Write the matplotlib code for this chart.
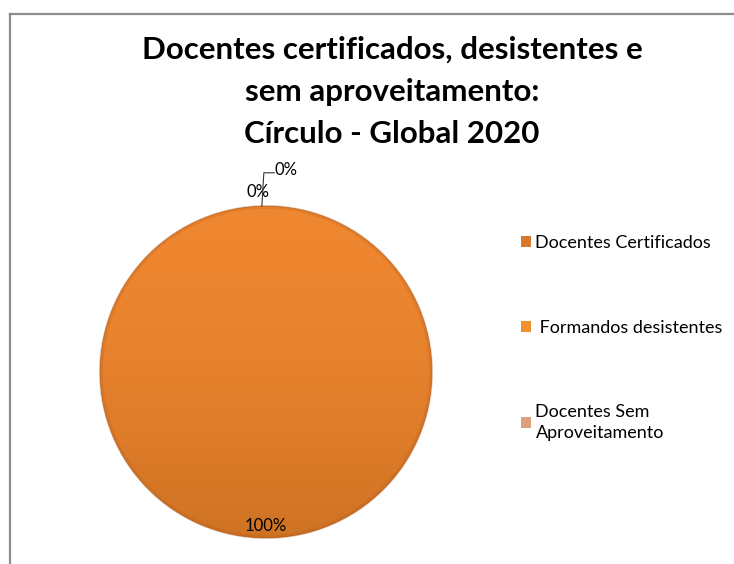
import numpy as np
import matplotlib.pyplot as plt
from matplotlib.lines import Line2D
from matplotlib.patches import Patch

# data
categorias = ['Docentes Certificados', ' Formandos desistentes', 'Docentes Sem\nAproveitamento']
valores = [25, 0, 0]
cores = ['#D9772A', '#F0902E', '#DDA07E']
titulo = 'Docentes certificados, desistentes e\nsem aproveitamento:\nCírculo - Global 2020'

plt.rcParams['font.family'] = ['Lato', 'DejaVu Sans']

W, H = 734, 564
fig = plt.figure(figsize=(W / 100, H / 100), dpi=100)

# frame lines (left and top) like the Excel chart area
fig.add_artist(Line2D([9.5 / W, 9.5 / W], [0, 1 - 13.5 / H], color='#8c8c8c', lw=1.6))
fig.add_artist(Line2D([9.5 / W, 1], [1 - 13.5 / H, 1 - 13.5 / H], color='#8c8c8c', lw=1.6))

fig.text(392 / W, 1 - 92 / H, titulo, ha='center', va='center', fontsize=22.5,
         fontweight='bold', linespacing=1.62)

# pie axes, centre (266, 372) px, radius 166 px
cx, cy, R = 266, 372, 166
size = 2.2 * R
ax = fig.add_axes([(cx - size / 2) / W, (H - cy - size / 2) / H, size / W, size / H])

wedges, _ = ax.pie(valores, colors=cores, startangle=90, counterclock=False, radius=1.0,
                   wedgeprops=dict(edgecolor='none'))
ax.set_xlim(-1.1, 1.1)
ax.set_ylim(-1.1, 1.1)
ax.set_aspect('equal')
ax.axis('off')

# gradient shading on top of the slices (light top, darker bottom)
yy = np.linspace(1, -1, 300)[:, None] * np.ones((1, 10))
grad = np.zeros((300, 10, 4))
top = np.array([0.94, 0.53, 0.19])
bot = np.array([0.81, 0.45, 0.14])
t = ((1 - yy) / 2) ** 1.6
for k in range(3):
    grad[:, :, k] = top[k] * (1 - t) + bot[k] * t
grad[:, :, 3] = 1.0
for w, v in zip(wedges, valores):
    if v > 0:
        im = ax.imshow(grad, extent=(-1, 1, -1, 1), zorder=1.5, interpolation='bilinear')
        im.set_clip_path(w)
# soft rim
for r, a in [(1.0, 0.45), (0.988, 0.2)]:
    ax.add_patch(plt.Circle((0, 0), r, fill=False, ec='#a9561a', lw=1.2, alpha=a, zorder=2))

total = sum(valores)
pct = [100 * v / total for v in valores]
mids = [np.deg2rad((w.theta1 + w.theta2) / 2) for w in wedges]

ax.text(0.93 * np.cos(mids[0]), 0.93 * np.sin(mids[0]), '%.0f%%' % pct[0],
        ha='center', va='center', fontsize=12, zorder=3)
ax.text(1.085 * np.cos(mids[1]) - 0.05, 1.085 * np.sin(mids[1]), '%.0f%%' % pct[1],
        ha='center', va='center', fontsize=12, zorder=3)
# leader line for the last label
x0, y0 = np.cos(mids[2]) - 0.025, np.sin(mids[2])
ax.plot([x0, x0 + 0.012, x0 + 0.075], [y0, y0 + 0.2, y0 + 0.2], color='#333333', lw=0.8,
        clip_on=False, zorder=3)
ax.text(x0 + 0.075, y0 + 0.215, '%.0f%%' % pct[2], ha='left', va='center',
        fontsize=12, zorder=3)
for txt in ax.texts:
    txt.set_clip_on(False)

handles = [Patch(facecolor=c, edgecolor='none') for c in cores]
leg = fig.legend(handles, categorias, loc='upper left', bbox_to_anchor=(521 / W, 1 - 235 / H),
                 frameon=False, fontsize=13, handlelength=0.55, handleheight=0.55,
                 handletextpad=0.25, labelspacing=3.8, borderpad=0, borderaxespad=0)
for txt in leg.get_texts():
    txt.set_linespacing(1.4)

fig.savefig('out.png', dpi=100)
